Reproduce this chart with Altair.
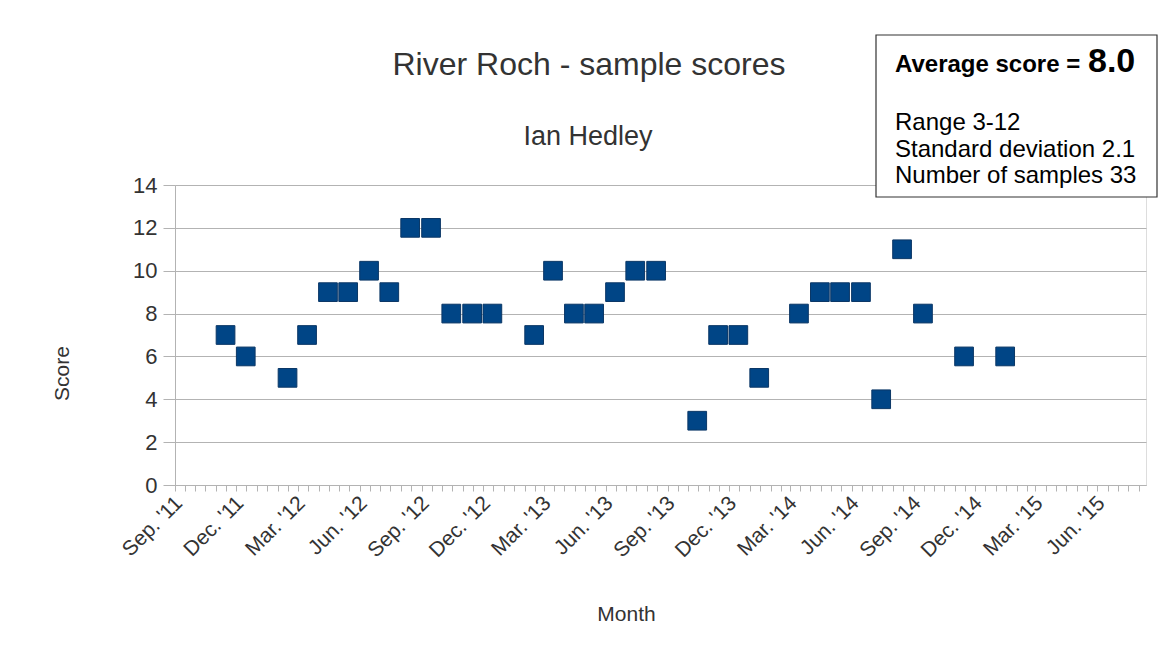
import altair as alt
import pandas as pd

# ---- data ----
months = ["2011-11", "2011-12", "2012-02", "2012-03", "2012-04", "2012-05",
          "2012-06", "2012-07", "2012-08", "2012-09", "2012-10", "2012-11",
          "2012-12", "2013-02", "2013-03", "2013-04", "2013-05", "2013-06",
          "2013-07", "2013-08", "2013-10", "2013-11", "2013-12", "2014-01",
          "2014-03", "2014-04", "2014-05", "2014-06", "2014-07", "2014-08",
          "2014-09", "2014-11", "2015-01"]
scores = [7, 6, 5, 7, 9, 9, 10, 9, 12, 12, 8, 8, 8, 7, 10, 8, 8, 9, 10, 10,
          3, 7, 7, 5, 8, 9, 9, 9, 4, 11, 8, 6, 6]
y_ticks = [0, 2, 4, 6, 8, 10, 12, 14]
title_text = "River Roch - sample scores"
subtitle_text = "Ian Hedley"
x_title = "Month"
y_title = "Score"
box_head = "Average score = "
box_value = "8.0"
box_lines = ["Range 3-12", "Standard deviation 2.1", "Number of samples 33"]

axis_start = pd.Timestamp("2011-09-01", tz="UTC")
axis_end = pd.Timestamp("2015-08-12", tz="UTC")

df = pd.DataFrame({"date": [m + "-15" for m in months], "score": scores})

# minor tick positions every half month
tick_vals = []
for yr in range(2011, 2016):
    for mo in range(1, 13):
        for dy in (1, 16):
            t = pd.Timestamp(year=yr, month=mo, day=dy, tz="UTC")
            if axis_start <= t <= axis_end:
                tick_vals.append(int(t.timestamp() * 1000))

label_expr = ("utcdate(datum.value) == 1 && utcmonth(datum.value) % 3 == 2 ? "
              "utcFormat(datum.value, \"%b. '%y\") : ''")

FONT = "Liberation Sans"
GREY = "#b3b3b3"
TXT = "#333333"


def one(text):
    return alt.Chart(pd.DataFrame({"t": [text]}))


points = alt.Chart(df).mark_point(shape="square", filled=True, size=350,
                                  opacity=1, color="#004586", stroke="#0b3766",
                                  strokeWidth=1).encode(
    x=alt.X("date:T",
            scale=alt.Scale(type="utc",
                            domain=[int(axis_start.timestamp() * 1000),
                                    int(axis_end.timestamp() * 1000)]),
            axis=alt.Axis(values=tick_vals, labelExpr=label_expr,
                          labelAngle=315, labelAlign="right", labelBaseline="top",
                          labelFontSize=21, labelFont=FONT, labelColor=TXT,
                          labelOverlap=False, labelBound=False, labelPadding=1,
                          labelOffset=-4,
                          tickSize=6, tickColor=GREY, domainColor=GREY,
                          grid=False, title=x_title, titleFont=FONT,
                          titleFontSize=21, titleFontWeight="normal",
                          titleColor=TXT, titleX=451, titleY=135,
                          titleBaseline="alphabetic", titleAlign="center")),
    y=alt.Y("score:Q",
            scale=alt.Scale(domain=[0, 14], nice=False),
            axis=alt.Axis(values=y_ticks, labelFontSize=22, labelFont=FONT,
                          labelColor=TXT, tickSize=12, labelPadding=6,
                          tickColor=GREY, domainColor=GREY, gridColor=GREY,
                          title=y_title, titleFont=FONT, titleFontSize=21,
                          titleFontWeight="normal", titleColor=TXT,
                          titleX=-113, titleY=188, titleAngle=270,
                          titleAlign="center", titleBaseline="middle")),
)

title_mark = one(title_text).mark_text(font=FONT, fontSize=32, color=TXT,
                                       align="center",
                                       baseline="alphabetic").encode(
    text="t:N", x=alt.value(414), y=alt.value(-110))
subtitle_mark = one(subtitle_text).mark_text(font=FONT, fontSize=27, color=TXT,
                                             align="center",
                                             baseline="alphabetic").encode(
    text="t:N", x=alt.value(413), y=alt.value(-40))

box = one("box").mark_rect(fill="white", stroke="#333333",
                           strokeWidth=1.2).encode(
    x=alt.value(701), x2=alt.value(982), y=alt.value(-150), y2=alt.value(12))

head = one(box_head).mark_text(font=FONT, fontSize=24, fontWeight="bold",
                               color="black", align="left",
                               baseline="alphabetic").encode(
    text="t:N", x=alt.value(720), y=alt.value(-113))
value = one(box_value).mark_text(font=FONT, fontSize=34, fontWeight="bold",
                                 color="black", align="left",
                                 baseline="alphabetic").encode(
    text="t:N", x=alt.value(913), y=alt.value(-113))

line_layers = []
for txt, yy in zip(box_lines, [-55, -28.5, -2]):
    line_layers.append(
        one(txt).mark_text(font=FONT, fontSize=24, color="black",
                           align="left", baseline="alphabetic").encode(
            text="t:N", x=alt.value(720), y=alt.value(yy)))

chart = alt.layer(points, title_mark, subtitle_mark, box, head, value,
                  *line_layers).properties(
    width=971, height=300,
    autosize=alt.AutoSizeParams(type="none"),
    padding={"left": 167, "top": 177, "right": 22, "bottom": 162},
).configure_view(stroke=GREY, strokeWidth=1).configure(background="white")

chart.save("out.html", embed_options={"renderer": "svg", "actions": False})
